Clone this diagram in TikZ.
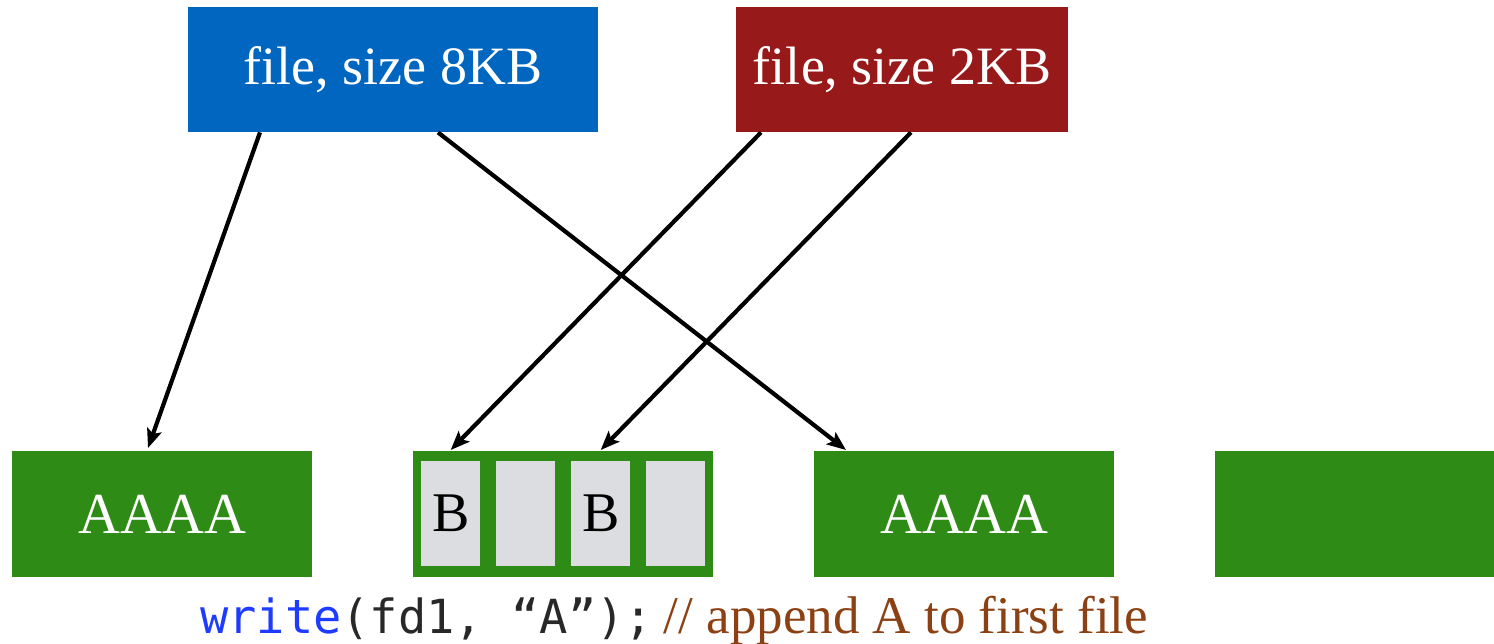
\documentclass[tikz,border=0pt]{standalone}
\usepackage{fontspec}
\setmainfont{Liberation Serif}
\newfontfamily\codefont{DejaVu Sans Mono}
\usetikzlibrary{arrows.meta,calc}

\definecolor{fileblue}{RGB}{0,102,192}
\definecolor{filered}{RGB}{152,25,25}
\definecolor{blockgreen}{RGB}{46,139,22}
\definecolor{cellgray}{RGB}{220,221,224}
\definecolor{kwblue}{RGB}{30,60,255}
\definecolor{codegray}{RGB}{40,40,40}
\definecolor{commentbrown}{RGB}{140,65,20}

\tikzset{
  filebox/.style={rectangle, inner sep=0pt, minimum height=125pt, anchor=north west,
    text=white, font=\fontsize{54}{60}\selectfont},
  blockbox/.style={rectangle, fill=blockgreen, inner sep=0pt, minimum width=300pt,
    minimum height=126pt, anchor=north west, text=white, font=\fontsize{58}{64}\selectfont},
  cellbox/.style={rectangle, fill=cellgray, inner sep=0pt, minimum width=59pt,
    minimum height=105pt, anchor=north west, text=black, font=\fontsize{56}{62}\selectfont},
  ptr/.style={line width=4.2pt, -{Stealth[length=19pt, width=15pt, inset=4pt]}},
}

\begin{document}
\begin{tikzpicture}[x=1pt, y=-1pt]
\useasboundingbox (0,0) rectangle (1494,643);

% files
\node[filebox, fill=fileblue, minimum width=410pt] (f8) at (188,7) {file, size 8KB};
\node[filebox, fill=filered, minimum width=332pt] (f2) at (736,7) {file, size 2KB};

% disk blocks
\node[blockbox] (blk1) at (12,451) {AAAA};
\node[blockbox] (blk2) at (413,451) {};
\node[blockbox] (blk3) at (814,451) {AAAA};
\node[blockbox, minimum width=279pt] (blk4) at (1215,451) {};

% sub-blocks of the shared block
\node[cellbox] (c1) at (421,461) {B};
\node[cellbox] (c2) at (496,461) {};
\node[cellbox] (c3) at (571,461) {B};
\node[cellbox] (c4) at (646,461) {};

% pointers from files to blocks
\draw[ptr] ([xshift=72pt]f8.south west) -- ([xshift=136pt, yshift=3pt]blk1.north west);
\draw[ptr] ([xshift=250pt]f8.south west) -- ([xshift=32pt, yshift=1pt]blk3.north west);
\draw[ptr] ([xshift=25pt]f2.south west) -- ([yshift=11pt]c1.north);
\draw[ptr] ([xshift=175pt]f2.south west) -- ([yshift=11pt]c3.north);

% caption
\node[anchor=base west, inner sep=0pt] (cap) at (200,633)
  {{\codefont\fontsize{47}{50}\selectfont\color{kwblue}write\color{codegray}(fd1, “A”);}\hspace{11pt}%
   {\fontsize{53}{60}\selectfont\color{commentbrown}// append A to first file}};
\end{tikzpicture}
\end{document}
